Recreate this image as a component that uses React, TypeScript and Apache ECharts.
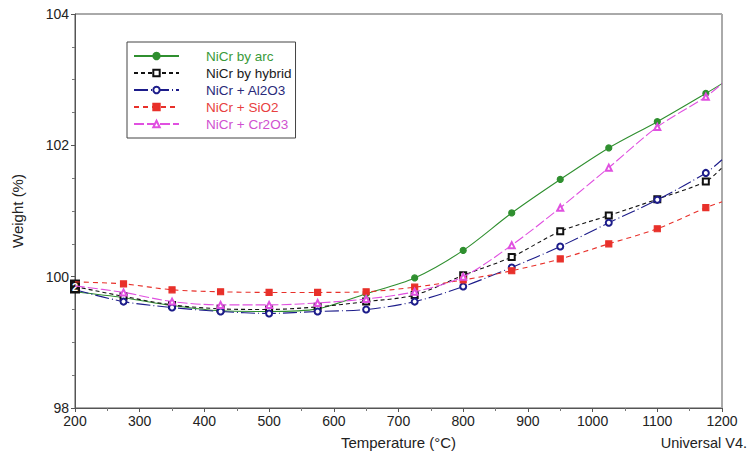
import React, { useEffect, useRef } from "react";
import * as echarts from "echarts";

const temps = [200, 275, 350, 425, 500, 575, 650, 725, 800, 875, 950, 1025, 1100, 1175, 1200];
const seriesNames = ["NiCr by arc", "NiCr by hybrid", "NiCr + Al2O3", "NiCr + SiO2", "NiCr + Cr2O3"];
const arc = [99.77, 99.68, 99.56, 99.48, 99.47, 99.51, 99.74, 99.98, 100.40, 100.97, 101.48, 101.96, 102.36, 102.79, 102.94];
const hybrid = [99.85, 99.70, 99.57, 99.51, 99.50, 99.54, 99.62, 99.72, 100.02, 100.30, 100.69, 100.93, 101.18, 101.45, 101.66];
const al2o3 = [99.80, 99.62, 99.53, 99.47, 99.44, 99.47, 99.50, 99.62, 99.85, 100.14, 100.46, 100.82, 101.17, 101.58, 101.78];
const sio2 = [99.92, 99.89, 99.80, 99.77, 99.76, 99.76, 99.77, 99.84, 99.95, 100.09, 100.27, 100.50, 100.73, 101.05, 101.14];
const cr2o3 = [99.86, 99.76, 99.62, 99.57, 99.57, 99.60, 99.66, 99.77, 100.00, 100.48, 101.05, 101.66, 102.28, 102.74, 102.94];
const xTicks = { min: 200, max: 1200, interval: 100 };
const yTicks = { min: 98, max: 104, interval: 2 };
const startMark = { temp: 200, value: 99.85, label: "2" };

const FONT = "Liberation Sans";

function buildData(values: number[]) {
  return values.map((v, i) => {
    const t = temps[i];
    if (i === 0 || i === values.length - 1) {
      return { value: [t, v], symbol: "none" };
    }
    return { value: [t, v] };
  });
}

export default function App() {
  const ref = useRef<HTMLDivElement>(null);
  useEffect(() => {
    if (!ref.current) return;
    const chart = echarts.init(ref.current, null, { renderer: "svg" });
    const colors = ["#2f8f2f", "#111111", "#1c1c8a", "#e8302a", "#e050e0"];
    const textColors = ["#3a9a3a", "#1a1a1a", "#2a2a7a", "#e84040", "#d050d0"];
    const styles: any[] = [
      { data: arc, symbol: "circle", size: 6, type: "solid" },
      { data: hybrid, symbol: "emptyRect", size: 6, type: [4, 3] },
      { data: al2o3, symbol: "emptyCircle", size: 6, type: [14, 3, 1, 3] },
      { data: sio2, symbol: "rect", size: 6, type: [5, 4] },
      { data: cr2o3, symbol: "emptyTriangle", size: 6, type: [10, 3] },
    ];
    const series: any[] = styles.map((s, i) => ({
      name: seriesNames[i],
      type: "line",
      smooth: 0.3,
      data: buildData(s.data),
      symbol: s.symbol,
      symbolSize: s.size,
      showAllSymbol: true,
      lineStyle: { color: colors[i], width: 1.1, type: s.type },
      itemStyle: { color: colors[i], borderColor: colors[i], borderWidth: i === 2 ? 2 : 1.2 },
      z: 2 + i,
    }));
    series[1].markPoint = {
      symbol: "rect",
      symbolSize: [10, 14],
      data: [
        {
          coord: [startMark.temp, startMark.value],
          itemStyle: { color: "#111" },
          label: { show: true, formatter: startMark.label, color: "#fff", fontSize: 11, fontWeight: "bold", fontFamily: FONT, position: "inside" },
        },
      ],
    };
    chart.setOption({
      animation: false,
      backgroundColor: "#fff",
      grid: { left: 75, right: 25, top: 14, bottom: 47, show: true, borderColor: "#555", borderWidth: 1 },
      legend: {
        left: 127,
        top: 42,
        orient: "vertical",
        width: 178,
        height: 96,
        padding: [7, 4, 7, 6],
        itemGap: 3,
        itemWidth: 45,
        itemHeight: 8,
        borderColor: "#444",
        borderWidth: 1,
        backgroundColor: "#fff",
        data: seriesNames.map((n, i) => ({ name: n, textStyle: { color: textColors[i] } })),
        textStyle: { fontFamily: FONT, fontSize: 13.5, lineHeight: 14, padding: [0, 0, 0, 22] },
      },
      xAxis: {
        type: "value",
        min: xTicks.min,
        max: xTicks.max,
        interval: xTicks.interval,
        name: "Temperature (°C)",
        nameLocation: "middle",
        nameGap: 27,
        nameTextStyle: { fontFamily: FONT, fontSize: 15, color: "#222" },
        axisLine: { show: true, lineStyle: { color: "#555", width: 1 } },
        axisTick: { show: true, length: 4, lineStyle: { color: "#555" } },
        minorTick: { show: true, splitNumber: 2, length: 3, lineStyle: { color: "#777" } },
        splitLine: { show: false },
        axisLabel: { fontFamily: FONT, fontSize: 14, color: "#222", margin: 6, formatter: (v: number) => String(v) },
      },
      yAxis: {
        type: "value",
        min: yTicks.min,
        max: yTicks.max,
        interval: yTicks.interval,
        name: "Weight (%)",
        nameLocation: "middle",
        nameGap: 50,
        nameTextStyle: { fontFamily: FONT, fontSize: 15, color: "#222" },
        axisLine: { show: true, lineStyle: { color: "#555", width: 1 } },
        axisTick: { show: true, length: 4, lineStyle: { color: "#555" } },
        minorTick: { show: true, splitNumber: 4, length: 3, lineStyle: { color: "#777" } },
        splitLine: { show: false },
        axisLabel: { fontFamily: FONT, fontSize: 14, color: "#222", margin: 6, formatter: (v: number) => String(v) },
      },
      graphic: [
        {
          type: "text",
          right: 0,
          top: 435,
          style: { text: "Universal V4.", fontFamily: FONT, fontSize: 14.5, fill: "#222" },
        },
        {
          type: "line",
          shape: { x1: 722, y1: 14, x2: 722, y2: 408 },
          style: { stroke: "#aaa", lineWidth: 2 },
        },
      ],
      series,
    });
    return () => chart.dispose();
  }, []);
  return <div ref={ref} style={{ position: "fixed", left: 0, top: 0, width: 747, height: 455 }} />;
}
